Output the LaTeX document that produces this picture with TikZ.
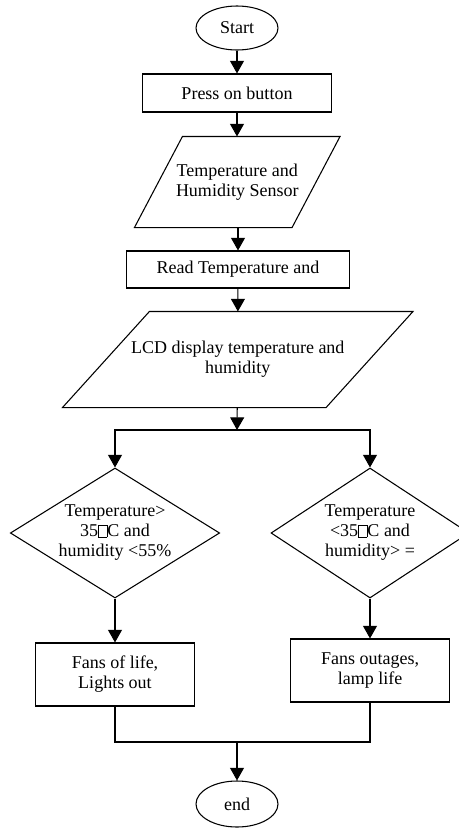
\documentclass[tikz,border=0pt]{standalone}
\usepackage{fontspec}
\setmainfont{Liberation Serif}
\usetikzlibrary{shapes.geometric,arrows.meta}

\newcommand{\tofu}{{\setlength{\fboxsep}{0pt}\setlength{\fboxrule}{0.5pt}\fbox{\rule{0pt}{8.8pt}\hspace{6pt}}}}

\tikzstyle{terminal} = [draw, ellipse, minimum width=61.5pt, minimum height=33pt, inner sep=0pt]
\tikzstyle{process} = [draw, rectangle, inner sep=0pt, align=center]
\tikzstyle{io} = [rectangle, inner sep=0pt, align=center]
\tikzstyle{decision} = [draw, diamond, aspect=1.6, inner sep=0pt, align=center, minimum width=157pt, minimum height=97.5pt]

\begin{document}
\begin{tikzpicture}[x=0.75pt, y=-0.75pt, line width=0.8pt,
    >={Triangle[width=10.5pt,length=9.5pt]},
    every node/.style={font=\fontsize{13.5}{15}\selectfont}]
  \clip (0,0) rectangle (459,828);
  \node (start) at (237,28) [terminal] {Start};
  \node (press) at (237,93) [process, minimum width=141.75pt, minimum height=28.5pt] {Press on button};
  \node (sensor) at (237.25,182) [io, minimum width=117.4pt, minimum height=67.5pt] {Temperature and\\Humidity Sensor};
  \node (read) at (238,269.5) [process, minimum width=167.25pt, minimum height=27.75pt] {Read Temperature and};
  \node (lcd) at (237.75,359.5) [io, minimum width=196.9pt, minimum height=71.25pt] {LCD display temperature and\\humidity};
  \coordinate (split) at (237,430);
  \node (hot) at (115,533) [decision] {Temperature>\\35\tofu C and\\humidity <55\%};
  \node (cool) at (370,533) [decision, minimum width=148.5pt] {Temperature\\<35\tofu C and\\humidity> =};
  \node (fanson) at (115,674.5) [process, minimum width=119.25pt, minimum height=47.25pt] {Fans of life,\\Lights out};
  \node (fansoff) at (370,670.5) [process, minimum width=119.25pt, minimum height=47.25pt] {Fans outages,\\lamp life};
  \coordinate (merge) at (237,742);
  \node (end) at (237,804) [terminal, minimum height=34.5pt] {end};

  % slanted input/output boxes
  \draw ([xshift=-18pt]sensor.south west) -- ([xshift=18pt]sensor.north west)
    -- ([xshift=18pt]sensor.north east) -- ([xshift=-18pt]sensor.south east) -- cycle;
  \draw ([xshift=-32.6pt]lcd.south west) -- ([xshift=32.6pt]lcd.north west)
    -- ([xshift=32.6pt]lcd.north east) -- ([xshift=-32.6pt]lcd.south east) -- cycle;

  \draw [->] (start) -- (press);
  \draw [->] (press) -- (press |- sensor.north);
  \draw [->] (sensor.south -| read) -- (read);
  \draw [->] (read) -- (lcd);
  \draw [->] (lcd) -- (split);
  \draw [->] (split) -| (hot);
  \draw [->] (split) -| (cool);
  \draw [->] (hot) -- (fanson);
  \draw [->] (cool) -- (fansoff);
  \draw (fanson) |- (merge);
  \draw (fansoff) |- (merge);
  \draw [->] (merge) -- (end);
\end{tikzpicture}
\end{document}
